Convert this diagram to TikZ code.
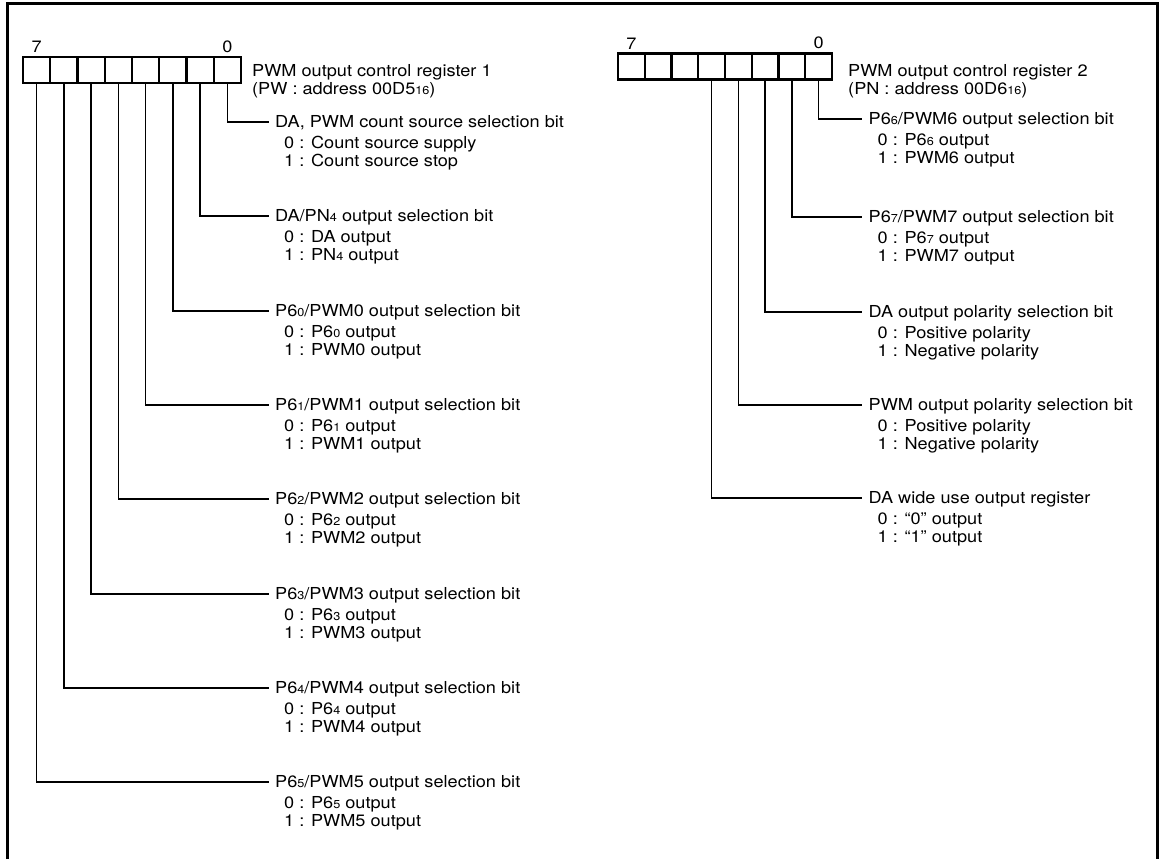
\documentclass[tikz,border=0pt]{standalone}
\usepackage{fontspec}
\setmainfont[FakeStretch=1.1]{TeX Gyre Heros}
\usetikzlibrary{positioning}
\newcommand{\regfont}{\fontsize{16.5pt}{19pt}\selectfont}
\newcommand{\lowdig}[1]{{\fontsize{11.5pt}{11.5pt}\selectfont #1}}
\tikzset{
    cell/.style={draw, line width=2.2pt, minimum width=#1,
                 minimum height=26pt, inner sep=0pt},
    cell/.default=27.25pt,
    bitnum/.style={font=\regfont, inner sep=0pt},
    regname/.style={font=\regfont, inner sep=0pt, anchor=base west},
    bitname/.style={font=\regfont, anchor=west, inner xsep=6.5pt,
                    inner ysep=0pt, text height=11.8pt, text depth=0pt},
    bitval/.style={font=\regfont, inner sep=0pt, anchor=base west},
    leader/.style={line width=1.3pt},
    frame/.style={line width=3pt},
}

\begin{document}
\begin{tikzpicture}[x=1pt, y=-1pt]
    \useasboundingbox (0,0) rectangle (1166,859);
    \draw[frame] (7,859) -- (7,4) -- (1157,4) -- (1157,859);

    % register 1
    \foreach \j in {0,...,7}{
        \pgfmathtruncatemacro{\b}{7-\j}
        \node[cell] (pwc\b) at ({23+27.25*(\j+0.5)},70) {};
    }
    \node[bitnum, above=3pt of pwc7] (pwhi) {7};
    \node[bitnum, above=3pt of pwc0] (pwlo) {0};
    \node[regname] (pwname) at (252,77) {PWM output control register 1};
    \node[regname] (pwaddr) at (252,94.5) {(PW : address 00D5\lowdig{16})};

    \foreach \b/\y/\ttl/\za/\zb in {
        0/122/{DA, PWM count source selection bit}/{Count source supply}/{Count source stop},
        1/216/{DA/PN\lowdig4 output selection bit}/{DA output}/{PN\lowdig4 output},
        2/311/{P6\lowdig0/PWM0 output selection bit}/{P6\lowdig0 output}/{PWM0 output},
        3/405/{P6\lowdig1/PWM1 output selection bit}/{P6\lowdig1 output}/{PWM1 output},
        4/499/{P6\lowdig2/PWM2 output selection bit}/{P6\lowdig2 output}/{PWM2 output},
        5/594/{P6\lowdig3/PWM3 output selection bit}/{P6\lowdig3 output}/{PWM3 output},
        6/688/{P6\lowdig4/PWM4 output selection bit}/{P6\lowdig4 output}/{PWM4 output},
        7/782/{P6\lowdig5/PWM5 output selection bit}/{P6\lowdig5 output}/{PWM5 output}}{
        \node[bitname] (pw\b) at (268.5,\y) {\ttl};
        \node[bitval] (pw\b-0) at ([xshift=15.5pt,yshift=-20pt]pw\b.south west) {0 : \za};
        \node[bitval] (pw\b-1) at ([xshift=15.5pt,yshift=-38.5pt]pw\b.south west) {1 : \zb};
        \draw[leader] (pwc\b.south) |- (pw\b.west);
    }

    % register 2
    \foreach \j in {0,...,7}{
        \pgfmathtruncatemacro{\b}{7-\j}
        \node[cell=26.75pt] (pnc\b) at ({618+26.75*(\j+0.5)},66.5) {};
    }
    \node[bitnum, above=3pt of pnc7] (pnhi) {7};
    \node[bitnum, above=3pt of pnc0] (pnlo) {0};
    \node[regname] (pnname) at (848,76) {PWM output control register 2};
    \node[regname] (pnaddr) at (848,94) {(PN : address 00D6\lowdig{16})};

    \foreach \b/\y/\ttl/\za/\zb in {
        0/119/{P6\lowdig6/PWM6 output selection bit}/{P6\lowdig6 output}/{PWM6 output},
        1/217/{P6\lowdig7/PWM7 output selection bit}/{P6\lowdig7 output}/{PWM7 output},
        2/312/{DA output polarity selection bit}/{Positive polarity}/{Negative polarity},
        3/405/{PWM output polarity selection bit}/{Positive polarity}/{Negative polarity},
        4/498/{DA wide use output register}/{“0” output}/{“1” output}}{
        \node[bitname] (pn\b) at (862,\y) {\ttl};
        \node[bitval] (pn\b-0) at ([xshift=15.5pt,yshift=-20pt]pn\b.south west) {0 : \za};
        \node[bitval] (pn\b-1) at ([xshift=15.5pt,yshift=-38.5pt]pn\b.south west) {1 : \zb};
        \draw[leader] (pnc\b.south) |- (pn\b.west);
    }
\end{tikzpicture}
\end{document}
